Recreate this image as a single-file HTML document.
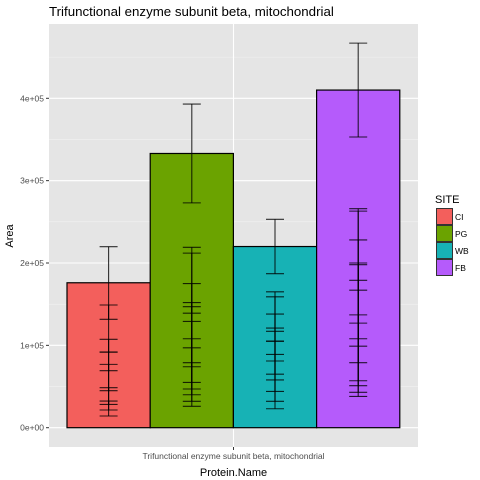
<!DOCTYPE html>
<html><head><meta charset="utf-8"><style>
body{margin:0;background:#fff;}
svg{display:block;font-family:"Liberation Sans",sans-serif;}
</style></head><body>
<svg id="chart" width="480" height="480" viewBox="0 0 480 480">
<text x="49" y="16" font-size="13.3" fill="#000">Trifunctional enzyme subunit beta, mitochondrial</text>
<rect x="49" y="24" width="369" height="423" fill="#e5e5e5"/>
<g id="grid"></g>
<g id="bars"></g>
<g id="errs"></g>
<g id="yaxis"></g>
<line x1="233.5" y1="447" x2="233.5" y2="450" stroke="#333"/>
<text x="233.5" y="459" font-size="8.5" fill="#4d4d4d" text-anchor="middle">Trifunctional enzyme subunit beta, mitochondrial</text>
<text x="233.5" y="476" font-size="11" fill="#000" text-anchor="middle">Protein.Name</text>
<text transform="translate(13,236) rotate(-90)" font-size="11" fill="#000" text-anchor="middle">Area</text>
<g id="legend">
<text x="435" y="203" font-size="11" fill="#000">SITE</text>
</g>
</svg>
<script>
const categories = ["CI","PG","WB","FB"];
const fills = ["#f35f5c","#6ba300","#17b2b5","#b55bfb"];
const means = [176000, 333000, 220000, 410000];
const errLow = [
 [131600,91900,69200,44900,28300,14200,21500],
 [273000,139000,97000,74000,47000,40000,26000,32000,55000],
 [187000,105000,81000,58000,32000,23000,44000,65000],
 [353000,167000,99000,79000,51000,38000,43000,57000,108000]
];
const errHigh = [
 [219800,149000,107300,76900,48600,32400,91900],
 [393000,219000,212000,175000,152000,129000,108000,79000,147000],
 [253000,165000,159000,138000,121000,89000,117000,105000],
 [467000,266000,263000,228000,200000,198000,179000,137000,127000]
];
const yTicks = [0,100000,200000,300000,400000];
const yTickLabels = ["0e+00","1e+05","2e+05","3e+05","4e+05"];

const NS="http://www.w3.org/2000/svg";
const y0=427.7, ppu=82.35/100000;
const Y=v=>y0-v*ppu;
const barL=67, barW=83.2;
const X=i=>barL+i*barW;
function mk(t,a,p){const e=document.createElementNS(NS,t);for(const k in a)e.setAttribute(k,a[k]);p.appendChild(e);return e;}
const grid=document.getElementById('grid');
for(let i=0;i<yTicks.length;i++){
 const yy=Y(yTicks[i]);
 const l=mk('line',{x1:49,x2:418,y1:yy,y2:yy,stroke:'#fff','stroke-width':1.1},grid);
 
 
 if(i<yTicks.length-1){const ym=Y((yTicks[i]+yTicks[i+1])/2);
  const m=mk('line',{x1:49,x2:418,y1:ym,y2:ym,stroke:'#f2f2f2','stroke-width':0.6},grid);
  
  }
}
{const ym=Y(450000);const m=mk('line',{x1:49,x2:418,y1:ym,y2:ym,stroke:'#f2f2f2','stroke-width':0.6},grid);
 
 }
const vg=mk('line',{x1:233.5,x2:233.5,y1:24,y2:447,stroke:'#fff','stroke-width':1.1},grid);


const yax=document.getElementById('yaxis');
for(let i=0;i<yTicks.length;i++){
 const yy=Y(yTicks[i]);
 const t=mk('line',{x1:46,x2:49,y1:yy,y2:yy,stroke:'#333'},yax);
 
 
 const tx=mk('text',{x:44,y:yy+3,'font-size':8.5,fill:'#4d4d4d','text-anchor':'end'},yax);
 tx.textContent=yTickLabels[i];
 
 
}
const bars=document.getElementById('bars'), errs=document.getElementById('errs');
for(let i=0;i<categories.length;i++){
 const r=mk('rect',{x:X(i),y:Y(means[i]),width:barW,height:y0-Y(means[i]),fill:fills[i],stroke:'#000','stroke-width':1.2},bars);
 
 
 const cx=X(i)+barW/2;
 for(let j=0;j<errLow[i].length;j++){
  const g=mk('g',{stroke:'#000','stroke-width':1.1,'stroke-opacity':0.8},errs);
  
  
  const a=Y(errLow[i][j]),b=Y(errHigh[i][j]);
  mk('line',{x1:cx,x2:cx,y1:a,y2:b},g);
  mk('line',{x1:cx-9,x2:cx+9,y1:a,y2:a},g);
  mk('line',{x1:cx-9,x2:cx+9,y1:b,y2:b},g);
 }
}
const leg=document.getElementById('legend');
for(let i=0;i<categories.length;i++){
 const yy=208+i*17;
 const k=mk('rect',{x:436.5,y:yy+0.5,width:16,height:16,fill:fills[i],stroke:'#333','stroke-width':1},leg);
 
 
 const t=mk('text',{x:455,y:yy+12,'font-size':8.5,fill:'#000'},leg);
 t.textContent=categories[i];
 
 
}
</script>
</body></html>
